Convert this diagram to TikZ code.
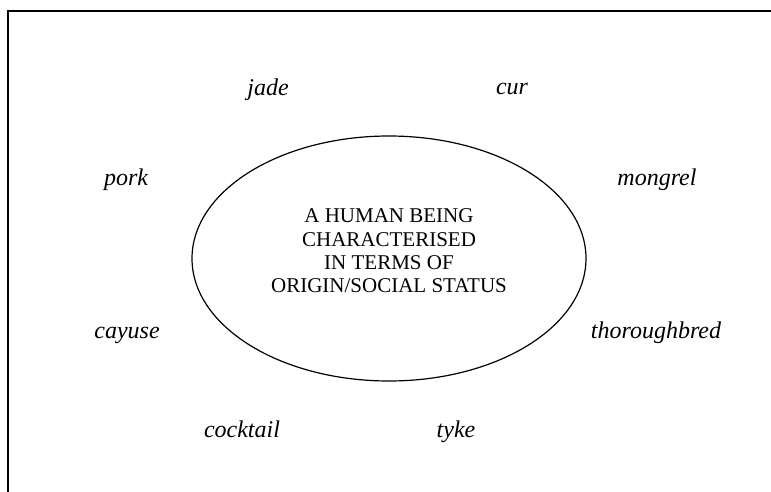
\documentclass[tikz,border=0pt]{standalone}
\usepackage{fontspec}
\setmainfont{Liberation Serif}
\usepackage{tikz}
\usetikzlibrary{positioning}

\begin{document}
\begin{tikzpicture}[x=1pt,y=1pt]
\tikzstyle{every node}+=[inner sep=0pt]
\tikzstyle{word}=[anchor=base,font=\fontsize{24}{28}\selectfont\itshape]
\useasboundingbox (0,0) rectangle (771,-492);
\draw [black,line width=1.5pt] (8,-492) -- (8,-11) -- (771,-11);
\draw [black,line width=1.2pt] (389,-258.5) ellipse (197 and 122.5);
\draw (389,-251) node (core) [align=center,font=\fontsize{21}{23.3}\selectfont]
  {A HUMAN BEING\\CHARACTERISED\\IN TERMS OF\\ORIGIN/SOCIAL STATUS};
\draw (268,-96) node (jade) [word] {jade};
\draw (512,-95) node (cur) [word] {cur};
\draw (126,-185) node (pork) [word] {pork};
\draw (657,-185) node (mongrel) [word] {mongrel};
\draw (127,-338) node (cayuse) [word] {cayuse};
\draw (656,-338) node (thoroughbred) [word] {thoroughbred};
\draw (242,-437) node (cocktail) [word] {cocktail};
\draw (456,-437) node (tyke) [word] {tyke};
\end{tikzpicture}
\end{document}
